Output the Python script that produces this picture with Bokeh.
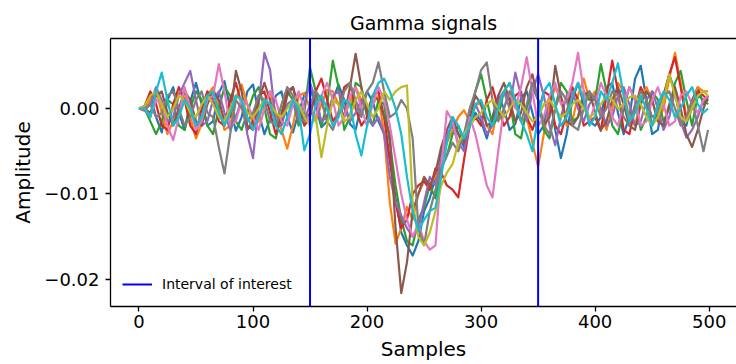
from bokeh.plotting import figure
from bokeh.models import Range1d, FixedTicker, LinearAxis, Legend, LegendItem
from bokeh.embed import file_html
from bokeh.resources import INLINE

# ---------------- data (amplitudes, in units of 1e-3) ----------------
samples = list(range(0, 500, 5)) + [499]

sig_blue = [0.0, 0.2, 1.5, -1.0, -2.8, 1.0, 2.5, -0.5, -2.5, 0.8,
            3.0, 0.5, -2.0, -1.5, 1.8, 3.2, 0.0, -2.6, -1.0, 2.0,
            2.8, -0.5, -3.0, -1.2, 1.5, 2.0, -1.0, -2.8, -0.5, 1.6,
            2.5, 0.2, -2.2, -1.5, 1.0, 2.8, 1.0, -1.8, -2.5, 0.5,
            2.0, 0.8, -1.5, -3.0, -6.0, -10.5, -14.5, -16.0, -17.2, -15.5,
            -12.0, -10.5, -8.0, -5.0, -3.5, -1.5, -3.0, -4.5, -2.0, -0.5,
            -1.5, -3.5, -1.0, 1.5, 0.0, -2.5, -1.8, 1.2, 2.0, -0.5,
            -3.0, -2.0, 1.5, -2.5, -5.8, -3.0, 1.0, 3.0, 0.5, -1.5,
            -2.0, -1.0, 2.5, 3.0, -0.5, -3.0, -1.0, 3.5, 5.0, 1.0,
            -3.0, -2.5, 1.5, 4.0, 2.0, -1.5, -2.0, 1.0, 2.5, 0.5, 1.0]
sig_orange = [0.0, -0.3, 1.0, 2.2, -0.5, -3.0, -1.5, 1.8, 2.0, -1.0,
              -3.5, -1.8, 1.5, 2.5, 0.2, -2.5, -2.0, 1.2, 2.8, 0.5,
              -2.0, -1.5, 1.0, 2.0, -0.5, -2.5, -4.7, -2.0, 1.5, 1.8,
              0.0, -1.5, 0.5, 2.2, 2.0, 0.5, -1.0, 0.8, 2.5, 1.0,
              -0.5, 0.5, 1.5, -3.0, -11.0, -15.8, -14.0, -11.5, -13.0, -10.0,
              -8.5, -9.0, -8.0, -6.0, -4.0, -2.5, -1.0, -0.2, -1.5, 0.5,
              0.5, -2.0, -3.0, 0.5, 2.0, 3.0, 0.5, -1.5, -1.0, -4.0,
              -6.8, -3.0, 0.5, 2.5, 1.0, -2.0, -1.5, 1.5, 3.5, 1.0,
              2.0, -0.5, -2.5, 0.0, 3.0, 2.0, -1.0, -2.0, 1.0, 2.5,
              1.0, -1.5, 0.0, 3.5, 6.5, 3.0, -1.0, 0.5, 2.5, 2.0, 2.0]
sig_green = [0.0, 0.0, -1.5, -3.0, -1.5, 1.0, 0.5, -2.0, -2.5, 0.0,
             2.0, 1.0, -2.0, -3.0, 0.0, 2.5, 1.5, -1.5, -2.5, -0.5,
             1.5, 2.5, 0.0, -3.0, -3.5, -0.5, 2.0, 1.0, -2.0, -0.5,
             4.8, 2.0, -2.0, 0.5, 5.6, 2.5, -2.5, -1.0, 3.0, 2.5,
             -1.0, -2.0, 1.0, 0.5, -4.0, -9.0, -13.0, -15.5, -16.0, -13.0,
             -11.5, -9.0, -10.5, -7.0, -5.5, -3.0, -2.0, -4.0, -1.5, 2.0,
             4.0, 1.0, -2.0, -1.0, 2.0, 1.0, -3.0, -3.5, 0.0, 2.5,
             1.0, -2.5, -3.5, 0.0, 3.0, 2.0, -1.5, -1.0, 2.0, 1.0,
             1.0, 5.2, 2.0, -2.0, -3.0, 0.0, 2.5, 1.0, -2.5, -1.0,
             2.0, 1.0, -1.5, 0.0, 3.0, 4.4, 1.0, -2.0, 1.5, 1.0, 0.5]
sig_red = [0.0, 0.3, 2.0, 0.5, -2.0, -2.5, 0.5, 2.5, 1.0, -2.0,
           -3.0, 0.0, 2.0, 1.0, -1.5, -2.0, 1.0, 3.0, 0.5, -2.5,
           -1.5, 1.5, 2.0, -0.5, -3.0, -1.0, 2.0, 2.5, 0.0, -2.0,
           -1.0, 2.0, 3.5, 1.0, -1.5, -0.5, 2.5, 3.0, 0.0, -2.0,
           -1.0, 1.5, 2.0, -1.0, -6.0, -11.0, -14.0, -13.0, -10.0, -9.0,
           -8.5, -9.5, -7.0, -7.5, -9.0, -9.5, -10.4, -6.0, -2.0, -1.0,
           -2.0, 1.0, 2.5, 0.0, -2.0, -1.0, 1.5, 2.0, -1.0, -2.5,
           -0.5, 2.0, 1.5, -2.0, -3.0, -0.5, 2.5, 1.0, -2.0, -1.5,
           -1.0, -2.6, 1.5, 5.6, 2.0, -2.5, -3.0, 0.0, 2.5, 1.0,
           -2.0, -0.5, 1.5, 4.0, 6.0, 2.5, -1.5, 0.0, 2.0, 1.5, 1.0]
sig_purple = [0.0, -0.2, 0.5, 2.5, 1.0, -1.5, -1.0, 1.5, 3.0, 4.4,
              1.0, -2.0, -1.5, 1.0, 2.0, -0.5, -2.5, -1.0, 1.0, -3.0,
              -5.8, 0.5, 6.5, 4.5, -1.5, -2.0, 0.5, 1.0, -1.5, 0.5,
              3.0, 1.0, -1.5, -1.0, 1.5, 2.0, 0.0, -1.5, -0.5, 1.0,
              0.0, -2.0, -1.0, -3.0, -8.0, -11.0, -12.5, -14.0, -15.0, -14.0,
              -11.0, -8.0, -9.0, -6.0, -3.0, -2.0, -4.0, -5.0, -2.0, 0.5,
              -1.0, -3.0, -2.0, 1.0, 2.0, 0.0, 4.2, 1.5, -1.5, 2.0,
              4.0, 1.5, -2.0, -4.3, -1.0, 1.5, 2.0, 0.0, -1.5, 0.5,
              1.5, 0.0, -2.0, -1.0, 1.5, 2.5, 0.5, -2.0, -1.5, 1.0,
              2.0, 0.0, -2.5, -1.0, 2.0, -1.5, -3.4, -2.5, -1.0, 1.0, 1.5]
sig_brown = [0.0, 0.0, -0.5, 1.5, 2.0, -0.5, -2.0, 0.0, 2.0, 1.0,
             -1.5, -2.0, 0.5, 2.0, 1.0, -1.5, -1.0, 4.4, 2.0, -2.0,
             -2.5, 1.0, 3.0, 1.0, -2.0, -1.5, 1.5, 2.5, 0.0, -1.5,
             -0.5, 2.0, 1.0, -1.5, 1.0, 0.5, -1.0, 2.5, 6.4, 2.5,
             -0.5, 1.5, 1.0, -1.0, -3.0, -14.0, -21.6, -18.0, -12.0, -10.0,
             -8.0, -9.0, -7.5, -4.5, -2.5, -1.0, -3.0, -4.0, -1.0, 1.5,
             0.5, -2.0, -1.5, 1.5, 3.0, 1.0, -1.5, -0.5, 2.5, 4.0,
             1.0, -2.0, -1.0, 5.0, 1.5, -1.5, -2.0, -1.0, 1.5, 2.0,
             -0.5, -2.5, -1.5, 1.0, 2.5, 0.5, -2.0, -2.5, 0.5, 2.0,
             1.0, -1.5, -2.0, 0.5, 2.5, 0.0, -3.0, -4.5, -2.5, 0.0, 1.5]
sig_pink = [0.0, 0.0, -1.0, 1.0, 0.5, -2.0, -3.7, -1.0, 2.5, 0.0,
            -2.5, -1.5, 1.0, 1.5, 5.2, 2.0, -2.0, -1.5, 1.0, 0.5,
            -1.0, -2.5, 0.0, 2.0, 1.0, -1.5, -2.0, 0.5, 2.0, 0.0,
            -2.0, -1.0, 1.5, 3.0, 1.0, -2.0, -1.0, 1.5, 2.5, 0.0,
            -2.0, 0.5, 2.5, 1.0, -2.0, -6.0, -10.0, -13.0, -15.0, -13.5,
            -15.5, -16.5, -16.0, -7.0, -0.3, -1.5, -4.5, -3.0, -1.0, -3.0,
            -6.0, -9.0, -10.4, -5.0, 0.0, 2.0, 0.0, 2.5, 6.0, 2.0,
            -2.0, -1.0, 1.5, 3.0, 0.5, 1.0, 3.0, 6.5, 2.0, -1.5,
            0.5, 3.0, 1.5, -1.0, -2.0, 0.5, 2.5, 1.0, -2.0, -1.5,
            1.0, 2.5, 0.5, -2.0, -1.5, 1.5, 2.0, 0.5, -0.5, 1.0, 1.5]
sig_gray = [0.0, 0.0, 0.5, -1.0, -0.5, 1.5, 2.0, 0.0, -2.0, -1.0,
            1.0, 2.0, -0.5, -1.0, -4.5, -7.6, -3.0, 1.0, 0.0, -1.5,
            -0.5, 1.5, 1.0, -1.5, -2.0, 0.5, 2.5, 1.5, -1.0, -1.5,
            0.5, 2.0, 1.0, -1.5, -2.5, -0.5, 2.0, 3.0, 1.0, -1.0,
            2.0, 3.0, 5.4, 2.0, -1.0, -0.5, 1.0, 0.0, -3.5, -14.0,
            -16.0, -12.0, -9.5, -7.0, -5.5, -4.0, -5.0, -3.0, 0.0, 2.0,
            4.5, 5.4, 1.0, -1.5, 0.0, 2.0, 1.0, -1.5, 0.5, 3.0,
            1.0, -2.0, -3.0, 0.0, 2.0, 1.0, -2.0, -2.5, 0.0, 2.0,
            1.0, -1.0, 0.0, 2.0, 1.5, -1.0, -2.0, 0.5, 2.0, 1.0,
            -1.0, -0.5, 1.5, 2.0, 0.0, -2.0, -1.0, 1.0, -2.0, -5.0, -2.5]
sig_olive = [0.0, 0.3, 1.5, 2.0, 0.5, -1.0, 0.0, 1.5, 1.0, -0.5,
             -1.0, 0.5, 1.5, 0.5, -1.0, -1.5, 0.0, 1.5, 1.0, -0.5,
             -1.0, 0.0, 1.0, 0.5, -0.5, -1.0, 0.0, 1.0, 0.5, -1.0,
             -2.0, -1.0, -5.7, -2.0, 1.0, 0.5, -1.5, -1.0, 1.0, 2.0,
             0.5, -1.0, 0.0, 2.0, 1.0, 2.0, 2.5, 2.7, -11.0, -15.0,
             -16.0, -14.5, -12.0, -9.0, -7.5, -6.5, -4.0, -3.0, -2.0, -1.0,
             -0.5, 0.5, 1.0, 0.0, -1.0, 0.0, 1.0, 0.5, -0.5, -1.5,
             -1.0, 0.5, 1.0, 0.0, -1.0, -0.5, 0.5, 1.0, 0.0, -1.0,
             -0.5, 0.5, 1.5, 1.0, 0.0, 0.5, 1.3, 1.5, 0.5, -1.0,
             -2.0, -1.0, 1.0, 4.0, 1.5, -1.0, -1.5, 0.0, 1.5, 2.0, 1.5]
sig_cyan = [0.0, 0.0, -1.0, 2.0, 4.2, 1.0, -2.0, -1.0, 1.0, 0.0,
            -2.0, -1.0, 1.5, 2.0, -0.5, -2.0, -0.5, 1.5, 1.0, -1.0,
            -2.5, -1.0, 1.0, 0.5, -2.0, -3.0, -1.0, 1.0, 0.0, -4.9,
            -3.0, 0.5, 1.5, 0.0, -2.0, -1.0, 1.0, 0.5, -3.0, -5.5,
            -2.0, 1.5, 3.0, 3.5, 2.0, 0.0, -3.0, -8.0, -12.0, -14.3,
            -13.0, -12.0, -11.6, -8.0, -4.0, -1.0, -2.0, -3.5, -2.0, 0.5,
            1.0, -1.0, -2.0, 0.0, 2.0, 3.0, 1.0, -1.5, -3.0, -5.0,
            -1.0, 2.0, 3.0, 0.5, -2.0, -1.0, 1.5, 3.0, 1.0, -2.0,
            -1.0, 2.0, 1.0, 3.0, 5.3, 1.5, -1.5, -0.5, 1.5, 0.0,
            -2.0, 0.5, 2.0, 1.0, -1.0, 0.0, 1.5, 2.5, 0.5, -0.5, 0.0]

signals = [sig_blue, sig_orange, sig_green, sig_red, sig_purple,
           sig_brown, sig_pink, sig_gray, sig_olive, sig_cyan]
signal_colors = ["#1f77b4", "#ff7f0e", "#2ca02c", "#d62728", "#9467bd",
                 "#8c564b", "#e377c2", "#7f7f7f", "#bcbd22", "#17becf"]
amp_scale = 1e-3  # the arrays above are in thousandths

interval_bounds = [150, 350]
interval_label = "Interval of interest"

x_ticks = [0, 100, 200, 300, 400, 500]
y_ticks = [-0.02, -0.01, 0.0]
y_tick_labels = ["\u22120.02", "\u22120.01", "0.00"]

for s in signals:
    assert len(s) == len(samples), len(s)

FONT = "DejaVu Sans"
Y_LO, Y_HI = -0.02316, 0.00819

p = figure(width=736, height=364,
           x_range=Range1d(-24.95, 523.95),
           y_range=Range1d(Y_LO, Y_HI),
           output_backend="svg", toolbar_location=None,
           min_border_left=110, min_border_right=0,
           min_border_top=38, min_border_bottom=58,
           title="Gamma signals")
p.outline_line_color = None
p.background_fill_color = "white"
p.border_fill_color = "white"
p.xgrid.grid_line_color = None
p.ygrid.grid_line_color = None

p.title.text_font = FONT
p.title.text_font_size = "19px"
p.title.text_font_style = "normal"
p.title.text_color = "black"
p.title.align = "center"

for ax in (p.xaxis[0], p.yaxis[0]):
    ax.axis_line_width = 1.3
    ax.axis_line_color = "black"
    ax.major_tick_line_width = 1.3
    ax.major_tick_line_color = "black"
    ax.major_tick_in = 0
    ax.major_tick_out = 5
    ax.minor_tick_line_color = None
    ax.major_label_text_font = FONT
    ax.major_label_text_font_size = "18px"
    ax.major_label_text_color = "black"
    ax.axis_label_text_font = FONT
    ax.axis_label_text_font_size = "20px"
    ax.axis_label_text_font_style = "normal"
    ax.axis_label_text_color = "black"

p.xaxis.ticker = FixedTicker(ticks=x_ticks)
p.yaxis.ticker = FixedTicker(ticks=y_ticks)
p.yaxis.major_label_overrides = dict(zip(y_ticks, y_tick_labels))
p.xaxis.axis_label = "Samples"
p.yaxis.axis_label = "Amplitude"
p.xaxis.major_label_standoff = 3
p.yaxis.major_label_standoff = 6
p.xaxis.axis_label_standoff = 6
p.yaxis.axis_label_standoff = 6

# top spine
top = LinearAxis(ticker=FixedTicker(ticks=[]), major_label_text_font_size="0px",
                 major_tick_out=0, major_tick_in=0, major_label_standoff=0,
                 axis_line_color="black", axis_line_width=1.3,
                 minor_tick_line_color=None)
p.add_layout(top, "above")

for sig, col in zip(signals, signal_colors):
    p.line(samples, [v * amp_scale for v in sig], line_color=col,
           line_width=2.2, line_join="round")

# vertical interval lines spanning the whole frame height
interval = p.segment(x0=interval_bounds, x1=interval_bounds,
                     y0=[Y_LO] * len(interval_bounds), y1=[Y_HI] * len(interval_bounds),
                     line_color="#0000ff", line_width=2)

legend = Legend(items=[LegendItem(label=interval_label, renderers=[interval])],
                location="bottom_left", label_text_font=FONT,
                label_text_font_size="14px", label_text_color="black",
                glyph_width=30, glyph_height=20, label_standoff=10,
                padding=8, margin=12, spacing=0,
                border_line_color=None, background_fill_alpha=0)
p.add_layout(legend)

open("out.html", "w").write(file_html(p, INLINE))
